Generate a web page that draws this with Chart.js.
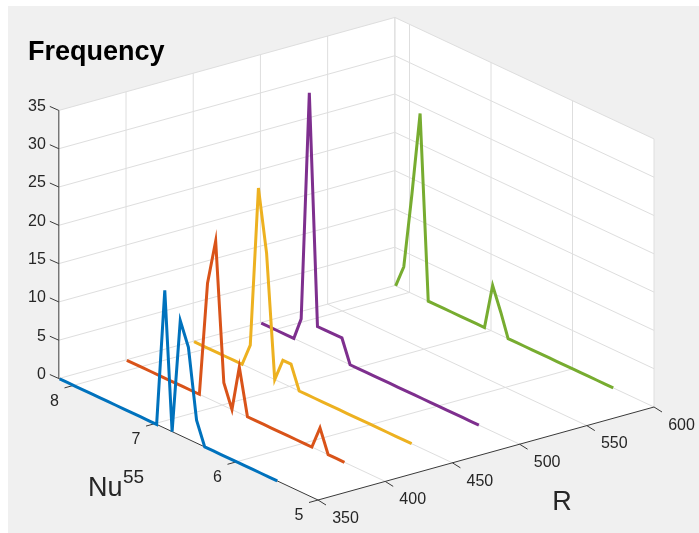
<!DOCTYPE html>
<html>
<head>
<meta charset="utf-8">
<script src="https://cdn.jsdelivr.net/npm/chart.js@4.4.0/dist/chart.umd.min.js"></script>
<style>
  html, body { margin: 0; padding: 0; background: #fff; }
  #wrap { width: 699px; height: 533px; }
</style>
</head>
<body>
<div id="wrap"><canvas id="freq-chart" width="699" height="533"></canvas></div>
<script>
// Nu bin centres, shared by every R series
var nuBins = [8.17, 8.07, 7.97, 7.87, 7.77, 7.68, 7.58, 7.48, 7.38, 7.28,
              7.18, 7.08, 6.98, 6.88, 6.79, 6.69, 6.59, 6.49, 6.39, 6.29,
              6.19, 6.09, 5.99, 5.90, 5.80, 5.70, 5.60, 5.50];

var rValues = [350, 400, 450, 500, 600];

// frequency per Nu bin at each R
var freqR350 = [0, 0, 0, 0, 0, 0, 0, 0, 0, 0, 0, 0, 0, 18, 0, 15, 12, 3, 0, 0, 0, 0, 0, 0, 0, 0, 0, 0];
var freqR400 = [0, 0, 0, 0, 0, 0, 0, 0, 0, 0, 15, 21, 3, 0, 6, 0, 0, 0, 0, 0, 0, 0, 0, 0, 3, 0, 0, 0];
var freqR450 = [0, 0, 0, 0, 0, 0, 0, 3, 24, 16, 0, 3, 3, 0, 0, 0, 0, 0, 0, 0, 0, 0, 0, 0, 0, 0, 0, 0];
var freqR500 = [0, 0, 0, 0, 0, 3, 33, 3, 3, 3, 3, 0, 0, 0, 0, 0, 0, 0, 0, 0, 0, 0, 0, 0, 0, 0, 0, 0];
var freqR600 = [0, 3, 13, 24, 0, 0, 0, 0, 0, 0, 0, 0, 6, 3, 0, 0, 0, 0, 0, 0, 0, 0, 0, 0, 0, 0, 0, 0];

var rTicks = [350, 400, 450, 500, 550, 600];
var nuTicks = [5, 6, 7, 8];
var zTicks = [0, 5, 10, 15, 20, 25, 30, 35];

var seriesColors = ['#0072BD', '#D95319', '#EDB120', '#7E2F8E', '#77AC30'];
var allFreq = [freqR350, freqR400, freqR450, freqR500, freqR600];

// axis limits of the 3d box
var lim = { r0: 350, r1: 600, nu0: 5, nu1: 8.18, z0: 0, z1: 35 };

// oblique view: screen offset per unit of R, Nu and frequency
var view = { ox: 318, oy: 500, rx: 1.344, ry: -0.372, nx: -81.5, ny: -38.2, zy: -7.66 };

function project(r, nu, z) {
    return {
        x: view.ox + (r - lim.r0) * view.rx + (nu - lim.nu0) * view.nx,
        y: view.oy + (r - lim.r0) * view.ry + (nu - lim.nu0) * view.ny + z * view.zy
    };
}

var FONT = "'Liberation Sans', Arial, Helvetica, sans-serif";
var TEXT = '#262626';
var GRID = '#dedede';

var box3d = {
    id: 'box3d',
    beforeDatasetsDraw: function(chart) {
        var ctx = chart.ctx;
        var xs = chart.scales.x, ys = chart.scales.y;
        function px(r, nu, z) {
            var p = project(r, nu, z);
            return { x: xs.getPixelForValue(p.x), y: ys.getPixelForValue(p.y) };
        }
        function seg(a, b, color, width) {
            ctx.beginPath();
            ctx.moveTo(a.x, a.y);
            ctx.lineTo(b.x, b.y);
            ctx.strokeStyle = color;
            ctx.lineWidth = width;
            ctx.stroke();
        }

        ctx.save();
        // figure background
        ctx.fillStyle = '#f0f0f0';
        ctx.fillRect(8, 6, chart.width - 8, chart.height - 6);

        // white faces of the box
        var poly = [px(lim.r0, lim.nu1, lim.z1), px(lim.r1, lim.nu1, lim.z1), px(lim.r1, lim.nu0, lim.z1),
                    px(lim.r1, lim.nu0, lim.z0), px(lim.r0, lim.nu0, lim.z0), px(lim.r0, lim.nu1, lim.z0)];
        ctx.beginPath();
        poly.forEach(function(p, i) { if (i === 0) ctx.moveTo(p.x, p.y); else ctx.lineTo(p.x, p.y); });
        ctx.closePath();
        ctx.fillStyle = '#ffffff';
        ctx.fill();

        // back wall (Nu max)
        rTicks.forEach(function(r) {
            if (r > lim.r0) seg(px(r, lim.nu1, lim.z0), px(r, lim.nu1, lim.z1), GRID, 1);
        });
        zTicks.forEach(function(z) {
            seg(px(lim.r0, lim.nu1, z), px(lim.r1, lim.nu1, z), GRID, 1);
            seg(px(lim.r1, lim.nu1, z), px(lim.r1, lim.nu0, z), GRID, 1);
        });
        // side wall (R max)
        nuTicks.concat([lim.nu1]).forEach(function(nu) {
            seg(px(lim.r1, nu, lim.z0), px(lim.r1, nu, lim.z1), GRID, 1);
        });
        // floor
        rTicks.forEach(function(r) {
            if (r > lim.r0 && r < lim.r1) seg(px(r, lim.nu1, 0), px(r, lim.nu0, 0), GRID, 1);
        });
        nuTicks.forEach(function(nu) {
            if (nu > lim.nu0) seg(px(lim.r0, nu, 0), px(lim.r1, nu, 0), GRID, 1);
        });

        // axis lines
        var axisCol = '#3a3a3a';
        seg(px(lim.r0, lim.nu1, lim.z0), px(lim.r0, lim.nu1, lim.z1), axisCol, 1);
        seg(px(lim.r0, lim.nu1, 0), px(lim.r0, lim.nu0, 0), axisCol, 1);
        seg(px(lim.r0, lim.nu0, 0), px(lim.r1, lim.nu0, 0), axisCol, 1);

        ctx.fillStyle = TEXT;
        ctx.font = '16px ' + FONT;

        // frequency ticks
        ctx.textAlign = 'right';
        ctx.textBaseline = 'middle';
        zTicks.forEach(function(z) {
            var p = px(lim.r0, lim.nu1, z);
            seg(p, { x: p.x - 9, y: p.y - 4 }, axisCol, 1);
            ctx.fillText(String(z), p.x - 13, p.y - 4);
        });

        // Nu ticks
        ctx.textAlign = 'center';
        nuTicks.forEach(function(nu) {
            var p = px(lim.r0, nu, 0);
            seg(p, { x: p.x - 9, y: p.y + 2.5 }, axisCol, 1);
            ctx.fillText(String(nu), p.x - 19, p.y + 16);
        });

        // R ticks
        rTicks.forEach(function(r) {
            var p = px(r, lim.nu0, 0);
            seg(p, { x: p.x + 8, y: p.y + 5 }, axisCol, 1);
            ctx.fillText(String(r), p.x + 27.5, p.y + 18.3);
        });

        // axis titles
        ctx.textAlign = 'left';
        ctx.textBaseline = 'alphabetic';
        ctx.font = '27px ' + FONT;
        ctx.fillText('Nu', 88, 496);
        ctx.font = '19px ' + FONT;
        ctx.fillText('55', 123, 483);
        ctx.font = '27px ' + FONT;
        ctx.textAlign = 'center';
        ctx.fillText('R', 562, 510);
        ctx.textAlign = 'left';
        ctx.font = 'bold 27px ' + FONT;
        ctx.fillStyle = '#000';
        ctx.fillText('Frequency', 28, 60);
        ctx.restore();
    }
};

var datasets = rValues.map(function(r, i) {
    return {
        label: 'R = ' + r,
        data: nuBins.map(function(nu, k) { return project(r, nu, allFreq[i][k]); }),
        showLine: true,
        borderColor: seriesColors[i],
        borderWidth: 3,
        pointRadius: 0,
        fill: false,
        tension: 0,
        clip: false
    };
});

var chart = new Chart(document.getElementById('freq-chart').getContext('2d'), {
    type: 'scatter',
    data: { datasets: datasets },
    options: {
        responsive: false,
        animation: false,
        devicePixelRatio: 1,
        events: [],
        layout: { padding: 0 },
        plugins: { legend: { display: false }, tooltip: { enabled: false } },
        scales: {
            x: { type: 'linear', min: 0, max: 699, display: false },
            y: { type: 'linear', min: 0, max: 533, reverse: true, display: false }
        }
    },
    plugins: [box3d]
});
</script>
</body>
</html>
